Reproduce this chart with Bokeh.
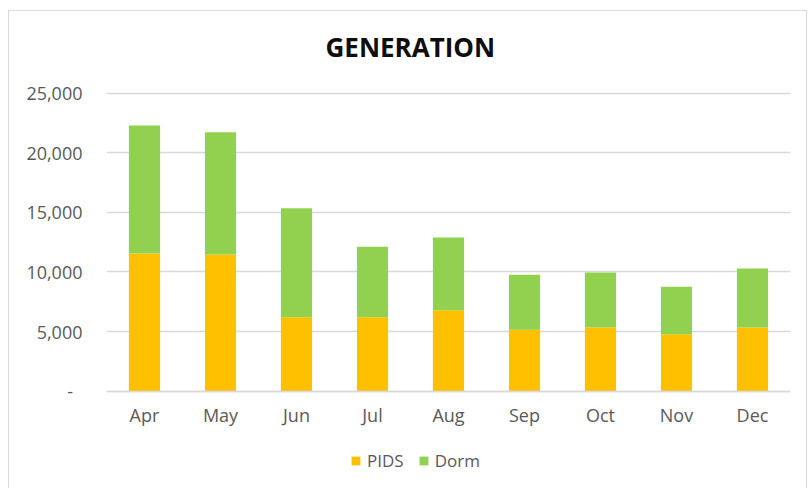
from bokeh.plotting import figure
from bokeh.models import FixedTicker, NumeralTickFormatter, Legend, LegendItem, ColumnDataSource, Title
from bokeh.embed import file_html
from bokeh.resources import INLINE

months = ["Apr", "May", "Jun", "Jul", "Aug", "Sep", "Oct", "Nov", "Dec"]
pids = [11550, 11470, 6210, 6210, 6800, 5150, 5340, 4780, 5340]
dorm = [10740, 10260, 9140, 5900, 6090, 4610, 4620, 3980, 4950]
series = ["PIDS", "Dorm"]
colors = ["#FFC000", "#92D050"]
y_ticks = [0, 5000, 10000, 15000, 20000, 25000]

src = ColumnDataSource(dict(month=months, PIDS=pids, Dorm=dorm))

FONT = "Open Sans"
p = figure(x_range=months, y_range=(-8247, 26065), width=799, height=478,
           output_backend="svg", toolbar_location=None,
           min_border_left=97, min_border_right=18, min_border_top=69, min_border_bottom=0)
p.styles = {"margin-left": "8px", "margin-top": "10px",
            "border-top": "1px solid #D9D9D9", "border-left": "1px solid #D9D9D9",
            "border-right": "1px solid #D9D9D9"}
p.outline_line_color = None

t = Title(text="GENERATION", align="left", offset=219, standoff=31,
          text_font=FONT, text_font_size="26px", text_font_style="bold", text_color="#0D0D0D")
p.add_layout(t, "above")

renderers = p.vbar_stack(series, x="month", width=0.41, source=src, color=colors, line_color=None)

p.xgrid.grid_line_color = None
p.ygrid.ticker = FixedTicker(ticks=y_ticks)
p.ygrid.grid_line_color = "#D9D9D9"
p.ygrid.grid_line_width = 1.3

p.yaxis.ticker = FixedTicker(ticks=y_ticks)
p.yaxis.formatter = NumeralTickFormatter(format="0,0")
p.yaxis.major_label_overrides = {0: "-\u00a0\u00a0"}
p.yaxis.axis_line_color = None
p.yaxis.major_tick_line_color = None
p.yaxis.minor_tick_line_color = None
p.yaxis.major_label_standoff = 18
p.yaxis.major_label_text_font = FONT
p.yaxis.major_label_text_font_size = "18px"
p.yaxis.major_label_text_color = "#595959"

p.xaxis.fixed_location = 0
p.xaxis.axis_line_color = "#D9D9D9"
p.xaxis.axis_line_width = 1.3
p.xaxis.major_tick_line_color = None
p.xaxis.minor_tick_line_color = None
p.xaxis.major_label_standoff = 6
p.xaxis.major_label_text_font = FONT
p.xaxis.major_label_text_font_size = "18px"
p.xaxis.major_label_text_color = "#595959"

legend = Legend(items=[LegendItem(label=s, renderers=[r]) for s, r in zip(series, renderers)],
                orientation="horizontal", location=(244, 17),
                glyph_width=11, glyph_height=11, label_standoff=6, spacing=14,
                label_text_font=FONT, label_text_font_size="17px", label_text_color="#595959",
                border_line_color=None, background_fill_alpha=0, padding=0, margin=0)
p.add_layout(legend)

open("out.html", "w").write(file_html(p, INLINE))
